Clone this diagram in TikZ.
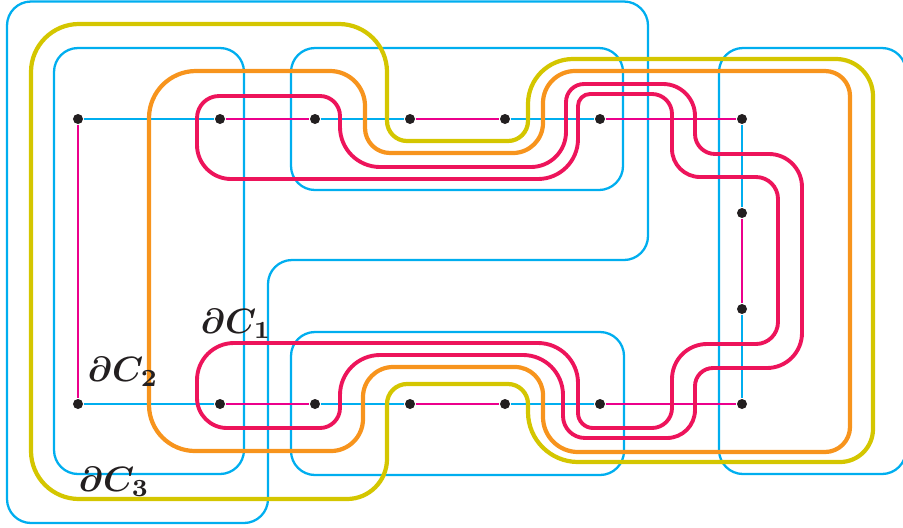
\documentclass[tikz,border=0pt]{standalone}
\usepackage{amsmath,amssymb}
\usepackage{bm}
\usepackage{tikz}
\definecolor{CYAN}{HTML}{00AEEF}
\definecolor{MAGENTA}{HTML}{EC008C}
\definecolor{CRIMSON}{HTML}{ED145B}
\definecolor{ORANGE}{HTML}{F7941D}
\definecolor{YELLOW}{HTML}{D4C600}
\definecolor{BLACK}{HTML}{231F20}

\begin{document}
\begin{tikzpicture}[x=0.01cm, y=-0.01cm,
    dot/.style={circle, fill=BLACK, inner sep=0pt, minimum size=0.1cm},
    cellbox/.style={CYAN, line width=0.65pt, rounded corners=0.24cm},
    link/.style={line width=0.6pt},
    bdry/.style={line width=1.2pt, line join=round}]
    \useasboundingbox (0,0) rectangle (903,527);
    %
    \draw[cellbox] (7,260) -- (7,1.5) -- (648,1.5) -- (648,260) -- (268,260) -- (268,523) -- (7,523) -- cycle;
    \draw[cellbox] (54,48) rectangle (244,474);
    \draw[cellbox] (291,48) rectangle (623,190);
    \draw[cellbox] (291,332) rectangle (624,475);
    \draw[cellbox] (719,48) rectangle (906,474);
    %
    \node[dot] (t1) at (78,119) {};
    \node[dot] (t2) at (220,119) {};
    \node[dot] (t3) at (315,119) {};
    \node[dot] (t4) at (410,119) {};
    \node[dot] (t5) at (505,119) {};
    \node[dot] (t6) at (600,119) {};
    \node[dot] (t7) at (742,119) {};
    \node[dot] (b1) at (78,404) {};
    \node[dot] (b2) at (220,404) {};
    \node[dot] (b3) at (315,404) {};
    \node[dot] (b4) at (410,404) {};
    \node[dot] (b5) at (505,404) {};
    \node[dot] (b6) at (600,404) {};
    \node[dot] (b7) at (742,404) {};
    \node[dot] (r1) at (742,213) {};
    \node[dot] (r2) at (742,309) {};
    %
    \draw[CYAN, link] (t1) -- (t2);
    \draw[MAGENTA, link] (t2) -- (t3);
    \draw[CYAN, link] (t3) -- (t4);
    \draw[MAGENTA, link] (t4) -- (t5);
    \draw[CYAN, link] (t5) -- (t6);
    \draw[MAGENTA, link] (t6) -- (t7);
    \draw[CYAN, link] (b1) -- (b2);
    \draw[MAGENTA, link] (b2) -- (b3);
    \draw[CYAN, link] (b3) -- (b4);
    \draw[MAGENTA, link] (b4) -- (b5);
    \draw[CYAN, link] (b5) -- (b6);
    \draw[MAGENTA, link] (b6) -- (b7);
    \draw[MAGENTA, link] (t1) -- (b1);
    \draw[CYAN, link] (t7) -- (r1);
    \draw[MAGENTA, link] (r1) -- (r2);
    \draw[CYAN, link] (r2) -- (b7);
    %
    \draw[YELLOW, bdry] (31,260) [rounded corners=0.48cm] -- (31,24) -- (387,24)
        [rounded corners=0.2cm] -- (387,141) -- (528,141)
        [rounded corners=0.45cm] -- (528,59)
        [rounded corners=0.37cm] -- (873,59)
        [rounded corners=0.33cm] -- (873,462)
        [rounded corners=0.5cm] -- (528,462)
        [rounded corners=0.2cm] -- (528,384) -- (387,384)
        [rounded corners=0.4cm] -- (387,499)
        [rounded corners=0.48cm] -- (31,499) -- cycle;
    %
    \draw[ORANGE, bdry] (149,260) [rounded corners=0.47cm] -- (149,71)
        [rounded corners=0.35cm] -- (365,71)
        [rounded corners=0.25cm] -- (365,153)
        [rounded corners=0.3cm] -- (543,153)
        [rounded corners=0.32cm] -- (543,71)
        [rounded corners=0.25cm] -- (850,71) -- (850,452)
        [rounded corners=0.35cm] -- (543,452)
        [rounded corners=0.28cm] -- (543,367)
        [rounded corners=0.3cm] -- (363,367)
        [rounded corners=0.32cm] -- (363,451)
        [rounded corners=0.46cm] -- (149,451) -- cycle;
    %
    \draw[CRIMSON, bdry, line width=1.1pt] (400,179)
        [rounded corners=0.34cm] -- (197,179)
        [rounded corners=0.22cm] -- (197,96)
        [rounded corners=0.2cm] -- (340,96)
        [rounded corners=0.4cm] -- (340,167)
        [rounded corners=0.35cm] -- (566,167)
        [rounded corners=0.18cm] -- (566,84)
        [rounded corners=0.32cm] -- (695,84)
        [rounded corners=0.2cm] -- (695,154)
        [rounded corners=0.33cm] -- (802,154)
        [rounded corners=0.35cm] -- (802,368)
        [rounded corners=0.18cm] -- (695,368)
        [rounded corners=0.28cm] -- (695,438)
        [rounded corners=0.22cm] -- (563,438)
        [rounded corners=0.4cm] -- (563,355) -- (340,355)
        [rounded corners=0.2cm] -- (340,428)
        [rounded corners=0.3cm] -- (197,428)
        [rounded corners=0.37cm] -- (197,343)
        [rounded corners=0.4cm] -- (578,343)
        [rounded corners=0.15cm] -- (578,428)
        [rounded corners=0.2cm] -- (672,428)
        [rounded corners=0.35cm] -- (672,344)
        [rounded corners=0.22cm] -- (778,344) -- (778,177)
        [rounded corners=0.28cm] -- (672,177)
        [rounded corners=0.2cm] -- (672,94)
        [rounded corners=0.12cm] -- (578,94)
        [rounded corners=0.4cm] -- (578,179) -- cycle;
    %
    \node[BLACK, anchor=base west, inner sep=0pt] (dC1) at (200,333) {$\bm{\partial C_1}$};
    \node[BLACK, anchor=base west, inner sep=0pt] (dC2) at (87,381) {$\bm{\partial C_2}$};
    \node[BLACK, anchor=base west, inner sep=0pt] (dC3) at (78,491) {$\bm{\partial C_3}$};
\end{tikzpicture}
\end{document}
